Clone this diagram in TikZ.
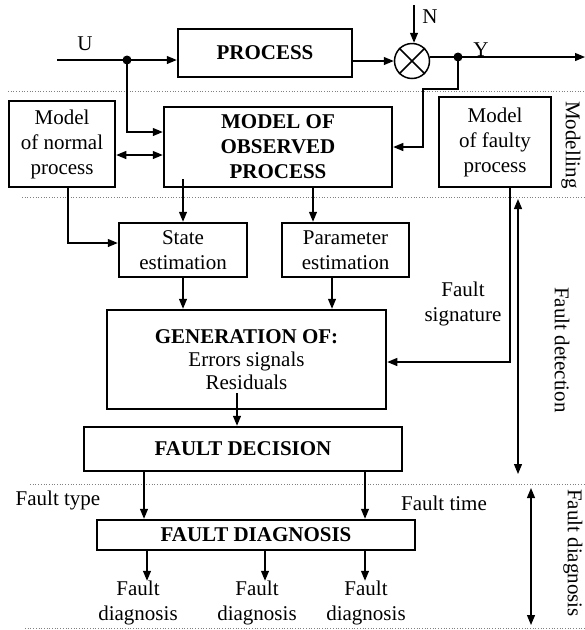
\documentclass[tikz,border=0pt]{standalone}
\usepackage{fontspec}
\setmainfont{Liberation Serif}
\usetikzlibrary{arrows.meta}

\begin{document}
\begin{tikzpicture}[x=1pt,y=-1pt,
  font=\fontsize{21}{25}\selectfont,
  blk/.style={draw,line width=2.5pt,align=center,inner sep=0pt},
  lbl/.style={align=center,inner sep=0pt},
  conn/.style={line width=1.2pt,-{Triangle[length=10pt,width=8pt]}},
  dconn/.style={line width=1.2pt,{Triangle[length=10pt,width=8pt]}-{Triangle[length=10pt,width=8pt]}},
  sep/.style={dotted,line width=0.7pt,gray}]
\useasboundingbox (0,0) rectangle (585,630);

\draw[sep] (8,91) -- (585,91);
\draw[sep] (22,197) -- (585,197);
\draw[sep] (30,484) -- (585,484);
\draw[sep] (25,628) -- (585,628);

\node[blk,minimum width=174pt,minimum height=48pt] (proc) at (265,53) {\textbf{PROCESS}};
\node[draw,circle,line width=1.5pt,minimum size=35pt,inner sep=0pt] (sum) at (412,61) {};
\draw[line width=1.5pt] (sum.north west) -- (sum.south east) (sum.north east) -- (sum.south west);
\node[blk,minimum width=106pt,minimum height=86pt] (normal) at (62,144) {Model\\of normal\\process};
\node[blk,minimum width=228pt,minimum height=80pt] (obs) at (278,147) {\textbf{MODEL OF}\\\textbf{OBSERVED}\\\textbf{PROCESS}};
\node[blk,minimum width=112pt,minimum height=90pt] (faulty) at (495,142) {Model\\of faulty\\process};
\node[blk,minimum width=128pt,minimum height=54pt] (state) at (183,250) {State\\estimation};
\node[blk,minimum width=127pt,minimum height=54pt] (param) at (345.5,250) {Parameter\\estimation};
\node[blk,minimum width=279pt,minimum height=99pt,font=\fontsize{21}{23}\selectfont] (gen) at (246.5,359.5) {\textbf{GENERATION OF:}\\Errors signals\\Residuals};
\node[blk,minimum width=318pt,minimum height=44pt] (fd) at (243,449) {\textbf{FAULT DECISION}};
\node[blk,minimum width=318pt,minimum height=30pt] (fdiag) at (256,535) {\textbf{FAULT DIAGNOSIS}};

\node[lbl] (ulbl) at (85,44) {U};
\node[lbl] (nlbl) at (430,17) {N};
\node[lbl] (ylbl) at (481,50) {Y};
\node[lbl] (fsig) at (463,304) {Fault\\signature};
\node[lbl] (ftype) at (58,500) {Fault type};
\node[lbl] (ftime) at (444,503) {Fault time};
\node[lbl,rotate=-90] (modl) at (571,145) {Modelling};
\node[lbl,rotate=-90] (fdet) at (562,350) {Fault detection};
\node[lbl,rotate=-90] (fdia) at (573,553) {Fault diagnosis};

\coordinate (uin) at (57,60);
\coordinate (ubr) at (127,60);
\coordinate (nin) at (414,5);
\coordinate (ybr) at (458,57);
\coordinate (yout) at (585,57);
\coordinate (dtop) at (518,199);
\coordinate (dbot) at (518,474);
\coordinate (gtop) at (531,488);
\coordinate (gbot) at (531,625);

\draw[conn] (uin) -- (uin -| proc.west);
\fill (ubr) circle (4.5pt);
\draw[conn] (proc.east |- sum.west) -- (sum.west);
\draw[conn] (nin) -- (nin |- sum.north);
\draw[conn] (sum.east |- ybr) -- (yout);
\fill (ybr) circle (4.5pt);
\draw[conn] (ybr) |- (423,89) |- (obs.east);
\draw[conn] (ubr) |- ([yshift=15pt]obs.west);
\draw[dconn] (normal.east |- 0,155) -- (obs.west |- 0,155);
\draw[conn] ([xshift=6pt]normal.south) |- ([yshift=7pt]state.west);
\draw[conn] ([yshift=9pt]obs.south -| state.north) -- (state.north);
\draw[conn] (obs.south -| 313,0) -- (param.north -| 313,0);
\draw[conn] (state.south) -- (state.south |- gen.north);
\draw[conn] (param.south -| 332,0) -- (gen.north -| 332,0);
\draw[conn] (faulty.south -| 510,0) |- ([yshift=-2.5pt]gen.east);
\draw[dconn] (dtop) -- (dbot);
\draw[conn] ([yshift=17pt]gen.south -| 237,0) -- (fd.north -| 237,0);
\draw[conn] (fd.south -| 144,0) -- (fdiag.north -| 144,0);
\draw[conn] (fd.south -| 365,0) -- (fdiag.north -| 365,0);
\foreach \i/\ax/\lx in {1/147/138,2/265/257,3/365/366}{
  \node[lbl] (diag\i) at (\lx,603) {Fault\\diagnosis};
  \draw[conn] (fdiag.south -| \ax,0) -- (diag\i.north -| \ax,0);
}
\draw[dconn] (gtop) -- (gbot);
\end{tikzpicture}
\end{document}
